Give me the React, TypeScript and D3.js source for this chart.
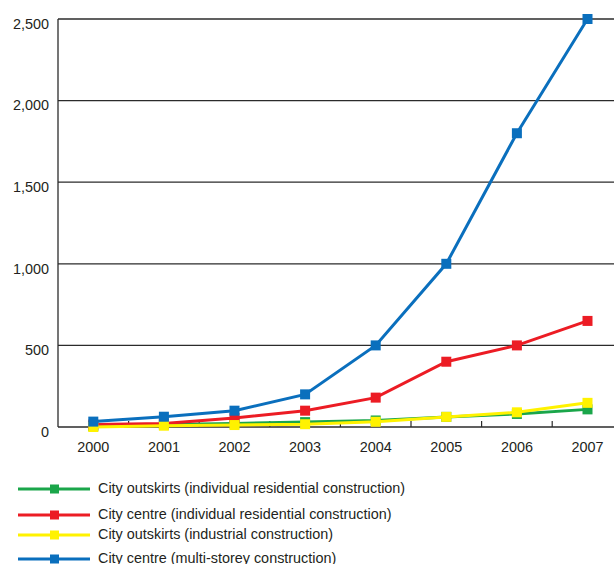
import React from "react";
import * as d3 from "d3";

const years = ["2000", "2001", "2002", "2003", "2004", "2005", "2006", "2007"];
const yTicks = [0, 500, 1000, 1500, 2000, 2500];

const outskirtsResidential = [5, 15, 22, 30, 40, 62, 80, 108];
const centreResidential = [15, 22, 55, 100, 180, 400, 500, 650];
const outskirtsIndustrial = [0, 8, 12, 17, 32, 62, 90, 148];
const centreMultiStorey = [33, 63, 100, 200, 500, 1000, 1800, 2500];

const seriesNames = [
  "City outskirts (individual residential construction)",
  "City centre (individual residential construction)",
  "City outskirts (industrial construction)",
  "City centre (multi-storey construction)",
];

const W = 614;
const H = 564;
const FONT = "'Liberation Sans', Arial, Helvetica, sans-serif";
const FS = 14.4;

export default function App() {
  const x = d3.scaleBand<string>().domain(years).range([58, 58 + 8 * 70.6]).paddingInner(0).paddingOuter(0);
  const y = d3.scaleLinear().domain([0, 2500]).range([427, 19]);
  const cx = (d: string) => (x(d) as number) + x.bandwidth() / 2;

  const series = [
    { name: seriesNames[0], values: outskirtsResidential, color: "#1aa64a" },
    { name: seriesNames[1], values: centreResidential, color: "#ec1c24" },
    { name: seriesNames[2], values: outskirtsIndustrial, color: "#fff200" },
    { name: seriesNames[3], values: centreMultiStorey, color: "#0a6fbd" },
  ];

  const line = d3
    .line<number>()
    .x((_, i) => cx(years[i]))
    .y((v) => y(v));

  const legendY = [489, 515, 535, 559];
  const ms = 10;

  return (
    <svg
      width={W}
      height={H}
      style={{ position: "absolute", left: 0, top: 0, background: "#fff" }}
      fontFamily={FONT}
    >
      {yTicks.map((t) => (
        <line key={t} x1={58} x2={W} y1={y(t)} y2={y(t)} stroke="#2b2b2b" strokeWidth={1.3} />
      ))}
      <line x1={58} x2={58} y1={y(2500)} y2={y(0)} stroke="#2b2b2b" strokeWidth={1.3} />
      {years.slice(1).map((yr) => (
        <line key={yr} x1={x(yr)} x2={x(yr)} y1={y(0)} y2={y(0) - 6} stroke="#2b2b2b" strokeWidth={1.2} />
      ))}
      {yTicks.map((t) => (
        <text key={t} x={49} y={y(t) + 6} textAnchor="end" dominantBaseline="middle" fontSize={FS} fill="#231f20">
          {d3.format(",")(t)}
        </text>
      ))}
      {years.map((yr) => (
        <text key={yr} x={cx(yr)} y={448} textAnchor="middle" dominantBaseline="middle" fontSize={FS} fill="#231f20">
          {yr}
        </text>
      ))}
      {series.map((s) => (
        <g key={s.name}>
          <path d={line(s.values) || ""} fill="none" stroke={s.color} strokeWidth={3} />
          {s.values.map((v, i) => (
            <rect key={i} x={cx(years[i]) - ms / 2} y={y(v) - ms / 2} width={ms} height={ms} fill={s.color} />
          ))}
        </g>
      ))}
      {series.map((s, i) => (
        <g key={s.name} transform={`translate(0,${legendY[i]})`}>
          <line x1={18} x2={90} y1={0} y2={0} stroke={s.color} strokeWidth={3} />
          <rect x={50} y={-4.5} width={9} height={9} fill={s.color} />
          <text x={98} y={0} dominantBaseline="middle" fontSize={FS} fill="#231f20">
            {s.name}
          </text>
        </g>
      ))}
    </svg>
  );
}
